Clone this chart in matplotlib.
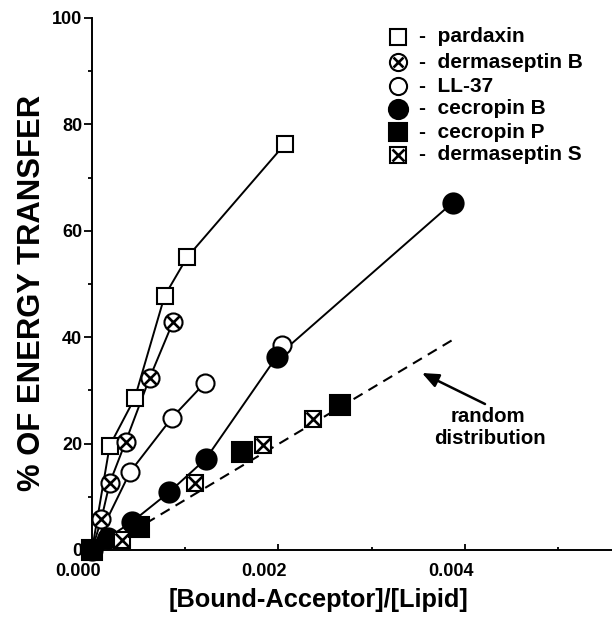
import matplotlib
matplotlib.use("Agg")
import matplotlib.pyplot as plt
import matplotlib.transforms as mtransforms

plt.rcParams['font.family'] = ['Liberation Sans', 'DejaVu Sans']
plt.rcParams['font.weight'] = 'bold'

# ---------------- data ----------------
pardaxin_x = [0.0, 0.00019, 0.00046, 0.00078, 0.00102, 0.00207]
pardaxin_y = [0.0, 19.6, 28.6, 47.8, 55.0, 76.3]

dermB_x = [0.0, 0.00010, 0.00019, 0.00036, 0.00062, 0.00087]
dermB_y = [0.0, 5.8, 12.6, 20.3, 32.4, 42.9]

ll37_x = [0.0, 0.00041, 0.00086, 0.00121]
ll37_y = [0.0, 14.7, 24.9, 31.4]
ll37_extra_x = [0.00204]
ll37_extra_y = [38.6]

cecB_x = [0.0, 0.00017, 0.00043, 0.00083, 0.00122, 0.00198, 0.00387]
cecB_y = [0.0, 2.3, 5.3, 10.9, 17.1, 36.3, 65.3]

cecP_x = [0.0, 0.00050, 0.00161, 0.00266]
cecP_y = [0.0, 4.3, 18.5, 27.3]

dermS_x = [0.00032, 0.00110, 0.00183, 0.00237]
dermS_y = [1.9, 12.6, 19.8, 24.7]

random_x = [0.0001, 0.00387]
random_y = [0.0, 39.5]

legend_labels = ["pardaxin", "dermaseptin B", "LL-37", "cecropin B",
                 "cecropin P", "dermaseptin S"]

x_ticks = [0.000, 0.002, 0.004]
x_ticklabels = ["0.000", "0.002", "0.004"]
y_ticks = [0, 20, 40, 60, 80, 100]

# ---------------- figure ----------------
W, H = 612, 626
fig = plt.figure(figsize=(W / 100, H / 100), dpi=100)
ax = fig.add_axes([92 / W, (H - 550) / H, 520 / W, 532 / H])
ax.set_xlim(0, 0.00558)
ax.set_ylim(0, 100)

LW = 1.4
MEW = 1.5

# marker styles: list of (marker, size, facecolor, edgewidth)
styles = {
    "pardaxin": [("s", 11.5, "white", MEW)],
    "dermaseptin B": [("o", 13, "white", MEW), ("x", 8.0, "black", 1.9)],
    "LL-37": [("o", 13, "white", MEW)],
    "cecropin B": [("o", 14.5, "black", MEW)],
    "cecropin P": [("s", 14, "black", MEW)],
    "dermaseptin S": [("s", 12, "white", MEW), ("x", 9.5, "black", 1.9)],
}


def draw_markers(x, y, name, z, transform=None, ax_=ax, scale=1.0):
    for m, s, fc, ew in styles[name]:
        kw = dict(linestyle="none", marker=m, markersize=s * scale,
                  markerfacecolor=fc, markeredgecolor="black",
                  markeredgewidth=ew, clip_on=False, zorder=z)
        if transform is not None:
            kw["transform"] = transform
        ax_.plot(x, y, **kw)
        z += 0.01


# lines
ax.plot(random_x, random_y, color="black", lw=1.5, dashes=(5, 3.3), zorder=2)
for xs, ys in [(pardaxin_x, pardaxin_y), (dermB_x, dermB_y),
               (ll37_x, ll37_y), (cecB_x, cecB_y)]:
    ax.plot(xs, ys, color="black", lw=LW, zorder=2, solid_capstyle="butt")

# markers
draw_markers(pardaxin_x, pardaxin_y, "pardaxin", 3)
draw_markers(dermB_x, dermB_y, "dermaseptin B", 3.1)
draw_markers(ll37_x, ll37_y, "LL-37", 3.2)
draw_markers(ll37_extra_x, ll37_extra_y, "LL-37", 3.2)
draw_markers(cecB_x, cecB_y, "cecropin B", 3.3)
draw_markers(dermS_x, dermS_y, "dermaseptin S", 3.4)
draw_markers(cecP_x, cecP_y, "cecropin P", 3.5)

# ---------------- axes styling ----------------
for s in ["top", "right"]:
    ax.spines[s].set_visible(False)
for s in ["left", "bottom"]:
    ax.spines[s].set_linewidth(1.4)

ax.set_xticks(x_ticks)
ax.set_xticklabels(x_ticklabels)
ax.set_xticks([0.001, 0.003, 0.005], minor=True)
ax.set_yticks(y_ticks)
ax.set_yticks([10, 30, 50, 70, 90], minor=True)
ax.tick_params(axis="x", which="major", direction="in", length=4.5, width=1.3,
               labelsize=13, pad=9)
ax.tick_params(axis="x", which="minor", direction="in", length=2.5, width=1.3)
ax.tick_params(axis="y", which="major", direction="out", length=6, width=1.3,
               labelsize=13, pad=1)
ax.tick_params(axis="y", which="minor", direction="out", length=3, width=1.3)
off = mtransforms.ScaledTranslation(-14 / 100, 0, fig.dpi_scale_trans)
for lab in ax.get_xticklabels():
    lab.set_transform(lab.get_transform() + off)
    lab.set_fontweight("bold")
for lab in ax.get_yticklabels():
    lab.set_fontweight("bold")

ax.set_xlabel("[Bound-Acceptor]/[Lipid]", fontsize=18.3, fontweight="bold")
ax.xaxis.set_label_coords((318 - 92) / 520, -(600 - 550) / 532)
ax.xaxis.label.set_va("center")
ax.set_ylabel("% OF ENERGY TRANSFER", fontsize=22.3, fontweight="bold")
ax.yaxis.set_label_coords((32.5 - 92) / 520, (550 - 293) / 532)
ax.yaxis.label.set_va("center")

# ---------------- legend (manual) ----------------
def px(xp, yp):
    return xp / W, 1 - yp / H

row_y = [37, 62, 86, 109, 132, 155]
for name, yp in zip(legend_labels, row_y):
    mx, my = px(398, yp)
    draw_markers([mx], [my], name, 5, transform=fig.transFigure, scale=0.95)
    tx, ty = px(419, yp)
    fig.text(tx, ty, "-  " + name, fontsize=15, fontweight="bold",
             ha="left", va="center")

# ---------------- annotation ----------------
ax.annotate("", xy=((422 - 92) / 520, (550 - 373) / 532),
            xytext=((485 - 92) / 520, (550 - 404) / 532),
            xycoords="axes fraction", textcoords="axes fraction",
            arrowprops=dict(arrowstyle="-|>,head_length=1.0,head_width=0.42",
                            color="black", lw=1.8, shrinkA=0, shrinkB=0))
fig.text(*px(488, 416), "random", fontsize=14.7, fontweight="bold",
         ha="center", va="center")
fig.text(*px(490, 439), "distribution", fontsize=14.7, fontweight="bold",
         ha="center", va="center")

fig.savefig("out.png", dpi=100)
